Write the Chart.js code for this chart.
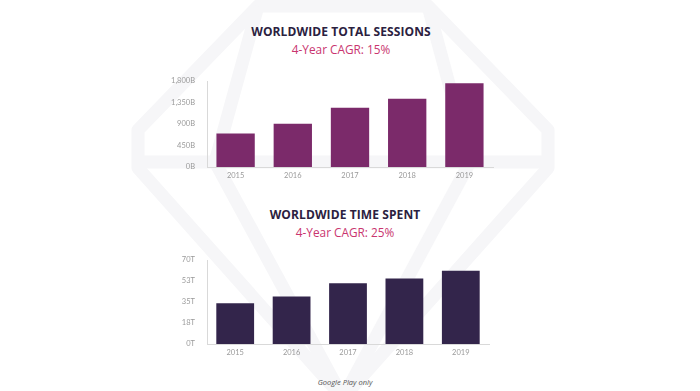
<!DOCTYPE html>
<html>
<head>
<meta charset="utf-8">
<script src="https://cdn.jsdelivr.net/npm/chart.js@4.4.0/dist/chart.umd.min.js"></script>
<style>
  body { margin: 0; background: #fff; }
  #page { position: relative; width: 700px; height: 391px; overflow: hidden; font-family: 'Open Sans', sans-serif; }
  .title { position: absolute; transform: translate(-50%, -50%); white-space: nowrap; font-weight: 700; color: #2b2140; font-size: 12px; letter-spacing: 0.1px; }
  .sub { position: absolute; transform: translate(-50%, -50%); white-space: nowrap; color: #c9356f; font-size: 11.8px; }
  .foot { position: absolute; transform: translate(-50%, -50%); white-space: nowrap; color: #555; font-size: 7.5px; font-style: italic; }
  canvas { position: absolute; }
  svg { position: absolute; left: 0; top: 0; }
</style>
</head>
<body>
<div id="page">
  <svg width="700" height="391">
    <g fill="none" stroke="#f6f6f8" stroke-width="13" stroke-linejoin="round">
      <polygon points="258,6 428,6 548,130 548,168 343,398 138,168 138,130" />
      <line x1="138" y1="162" x2="548" y2="162" />
      <line x1="258" y1="6" x2="215" y2="162" />
      <line x1="428" y1="6" x2="470" y2="162" />
      <line x1="215" y1="162" x2="343" y2="398" />
      <line x1="470" y1="162" x2="343" y2="398" />
    </g>
  </svg>

  <div class="title" style="left:341px; top:31px;">WORLDWIDE TOTAL SESSIONS</div>
  <div class="sub" style="left:341px; top:49px;">4-Year CAGR: 15%</div>
  <canvas id="sessions" style="left:157px; top:75px;" width="340" height="108"></canvas>

  <div class="title" style="left:345px; top:214px;">WORLDWIDE TIME SPENT</div>
  <div class="sub" style="left:345px; top:232px;">4-Year CAGR: 25%</div>
  <canvas id="timeSpent" style="left:157px; top:254px;" width="336" height="106"></canvas>

  <div class="foot" style="left:345px; top:382px;">Google Play only</div>
</div>

<script>
// data
const years = ['2015', '2016', '2017', '2018', '2019'];
const sessions = [701, 903, 1239, 1428, 1752];     // billions
const timeSpent = [34.0, 39.5, 50.7, 54.5, 61.1];   // trillions
const sessionTicks = [0, 450, 900, 1350, 1800];
const timeTicks = [0, 17.5, 35, 52.5, 70];

const tickFont = { family: 'Lato', size: 7.5 };
const tickColor = '#9a9a9a';
const axisColor = '#d9d9d9';

const makeChart = (id, values, color, ticks, suffix) => {
    return new Chart(document.getElementById(id), {
        type: 'bar',
        data: {
            labels: years,
            datasets: [{
                data: values,
                backgroundColor: color,
                categoryPercentage: 1,
                barPercentage: 0.67,
            }]
        },
        options: {
            responsive: false,
            animation: false,
            layout: { padding: { top: 6, right: 4, left: 0, bottom: 0 } },
            plugins: { legend: { display: false }, tooltip: { enabled: false } },
            scales: {
                x: {
                    grid: { display: false, drawTicks: false },
                    border: { display: true, color: axisColor, width: 1 },
                    ticks: { font: tickFont, color: tickColor, padding: 4 },
                    afterFit: (s) => { s.height = 16; },
                },
                y: {
                    min: ticks[0],
                    max: ticks[ticks.length - 1],
                    afterBuildTicks: (s) => { s.ticks = ticks.map(v => ({ value: v })); },
                    grid: { display: false, drawTicks: false },
                    border: { display: true, color: axisColor, width: 1 },
                    ticks: {
                        font: tickFont,
                        color: tickColor,
                        padding: 12,
                        callback: (v) => Math.round(v).toLocaleString('en-US') + suffix,
                    },
                    // tick padding would otherwise push the plot down
                    afterFit: (s) => { s.width = 50; s.paddingTop = 5; s.paddingBottom = 5; },
                },
            },
        },
    });
};

makeChart('sessions', sessions, '#7b2a6a', sessionTicks, 'B');
makeChart('timeSpent', timeSpent, '#33254b', timeTicks, 'T');
</script>
</body>
</html>
